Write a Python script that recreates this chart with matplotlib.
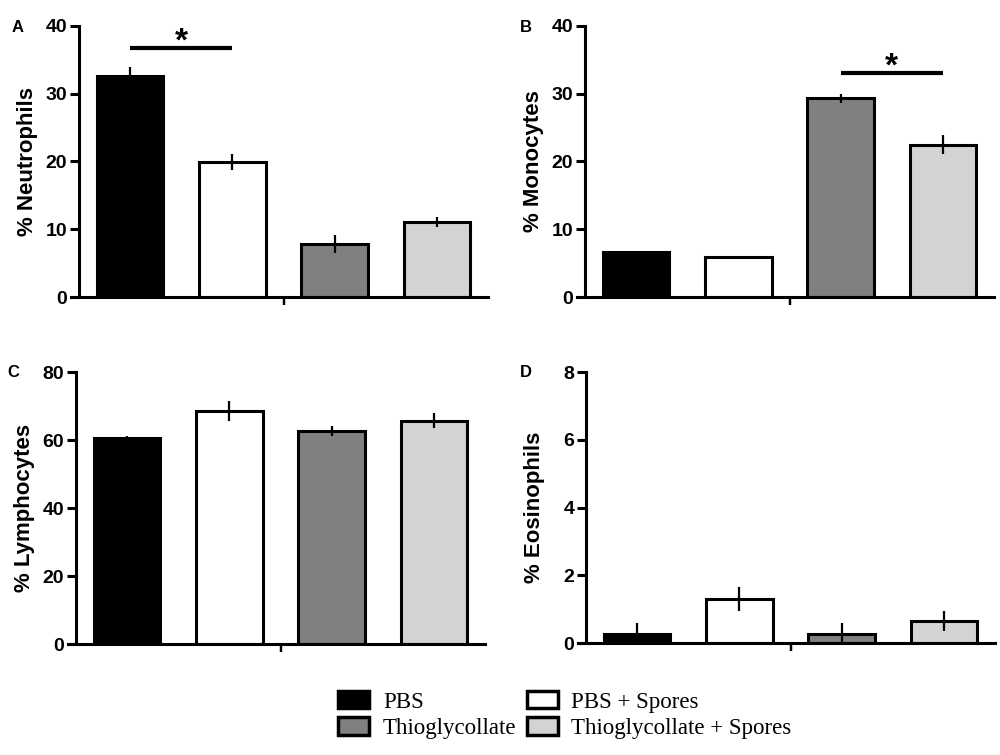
import matplotlib
matplotlib.use("Agg")
import matplotlib.pyplot as plt
from matplotlib.patches import Patch

groups = ["PBS", "PBS + Spores", "Thioglycollate", "Thioglycollate + Spores"]
colors = ["#000000", "#ffffff", "#808080", "#d3d3d3"]

neutrophils = [32.6, 19.9, 7.8, 11.1]
neutrophils_err = [1.4, 1.2, 1.3, 0.7]
monocytes = [6.6, 5.9, 29.3, 22.5]
monocytes_err = [0.2, 0.0, 0.6, 1.4]
lymphocytes = [60.7, 68.5, 62.6, 65.7]
lymphocytes_err = [0.5, 3.0, 1.5, 2.2]
eosinophils = [0.27, 1.3, 0.28, 0.65]
eosinophils_err = [0.33, 0.36, 0.32, 0.3]

panels = [
    dict(letter="A", label="% Neutrophils", vals=neutrophils, err=neutrophils_err,
         ymax=40, ticks=[0, 10, 20, 30, 40], sig=(0, 1, 36.7), rect=(0.071, 0.6066, 0.417, 0.359),
         letter_xy=(0.012, 0.963)),
    dict(letter="B", label="% Monocytes", vals=monocytes, err=monocytes_err,
         ymax=40, ticks=[0, 10, 20, 30, 40], sig=(2, 3, 33.1), rect=(0.577, 0.6066, 0.417, 0.359),
         letter_xy=(0.520, 0.963)),
    dict(letter="C", label="% Lymphocytes", vals=lymphocytes, err=lymphocytes_err,
         ymax=80, ticks=[0, 20, 40, 60, 80], sig=None, rect=(0.068, 0.147, 0.417, 0.360),
         letter_xy=(0.007, 0.507)),
    dict(letter="D", label="% Eosinophils", vals=eosinophils, err=eosinophils_err,
         ymax=8, ticks=[0, 2, 4, 6, 8], sig=None, rect=(0.578, 0.148, 0.417, 0.359),
         letter_xy=(0.520, 0.507)),
]

fig = plt.figure(figsize=(10, 7.55), dpi=100)
sans = ["Liberation Sans", "DejaVu Sans"]
LW = 2.2

x = list(range(len(groups)))
for p in panels:
    ax = fig.add_axes(p["rect"])
    ax.bar(x, p["vals"], width=0.65, color=colors, edgecolor="black", linewidth=LW, zorder=2)
    ax.errorbar(x, p["vals"], yerr=p["err"], fmt="none", ecolor="black", elinewidth=1.6,
                capsize=0, zorder=3)
    ax.set_xlim(-0.58, 3.5)
    ax.set_ylim(0, p["ymax"])
    ax.spines["top"].set_visible(False)
    ax.spines["right"].set_visible(False)
    ax.spines["left"].set_position(("data", -0.5))
    ax.spines["left"].set_linewidth(LW)
    ax.spines["bottom"].set_linewidth(LW)
    ax.spines["left"].set_bounds(0, p["ymax"])
    ax.set_yticks(p["ticks"])
    ax.set_yticklabels([str(t) for t in p["ticks"]], fontfamily=sans, fontweight="bold", fontsize=14)
    ax.set_xticks([1.5])
    ax.set_xticklabels([""])
    ax.tick_params(axis="y", length=6.5, width=LW, direction="out", pad=2)
    ax.tick_params(axis="x", length=6, width=LW * 0.8, direction="out")
    ax.set_ylabel(p["label"], fontfamily=sans, fontweight="bold", fontsize=16)
    ax.yaxis.set_label_coords(-0.078, 0.5)
    ax.patch.set_alpha(0)
    if p["sig"] is not None:
        i0, i1, yv = p["sig"]
        ax.plot([i0, i1], [yv, yv], color="black", linewidth=3, solid_capstyle="butt", clip_on=False)
        ax.annotate("*", xy=((i0 + i1) / 2, yv), xytext=(0, -7), textcoords="offset points",
                    ha="center", va="bottom", fontfamily=sans, fontweight="bold", fontsize=24,
                    annotation_clip=False)
    fig.text(p["letter_xy"][0], p["letter_xy"][1], p["letter"], fontfamily=sans,
             fontweight="bold", fontsize=12, va="center", ha="left")

handles = [Patch(facecolor=c, edgecolor="black", linewidth=2.5) for c in colors]
order = [0, 2, 1, 3]
leg = fig.legend([handles[i] for i in order], [groups[i] for i in order], ncol=2,
                 loc="center", bbox_to_anchor=(0.565, 0.053), frameon=False,
                 prop=dict(family=["Liberation Serif", "DejaVu Serif"], size=16.5),
                 handlelength=1.35, handleheight=0.8, handletextpad=0.6,
                 columnspacing=0.45, labelspacing=0.2)

fig.savefig("out.png", dpi=100)
